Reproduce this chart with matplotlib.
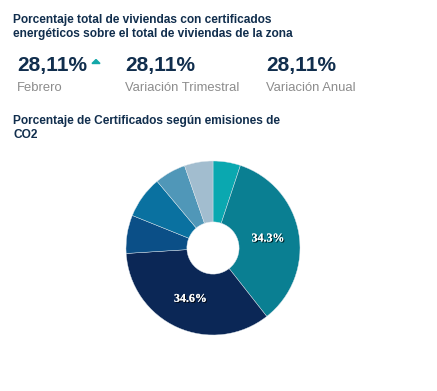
import matplotlib.pyplot as plt
import matplotlib.patheffects as pe

W, H = 437, 391

# Datos
shares = [5.1, 34.3, 34.6, 7.1, 7.8, 5.8, 5.3]
colors = ["#0aa8b0", "#0a7f92", "#0b2756", "#0b4f87", "#0a71a0", "#5097b8", "#a2bdcf"]
kpi_values = ["28,11%", "28,11%", "28,11%"]
kpi_labels = ["Febrero", "Variación Trimestral", "Variación Anual"]
kpi_x = [17, 125, 266]
title1 = ["Porcentaje total de viviendas con certificados",
          "energéticos sobre el total de viviendas de la zona"]
title2 = ["Porcentaje de Certificados según emisiones de", "CO2"]

plt.rcParams["font.family"] = ["Liberation Sans", "DejaVu Sans"]
fig = plt.figure(figsize=(W / 100, H / 100), dpi=100)
fig.patch.set_facecolor("white")


def put(x, y, s, **kw):
    fig.text(x / W, 1 - y / H, s, va="baseline", ha="left", **kw)


navy = "#112e4d"
for i, line in enumerate(title1):
    put(13, 23.5 + 13 * i, line, fontsize=8.55, fontweight="bold", color=navy)

for x, v, lab in zip(kpi_x, kpi_values, kpi_labels):
    put(x, 71.5, v, fontsize=15, fontweight="bold", color=navy)
    put(x, 91, lab, fontsize=9.4, color="#8c8c8c")

# flecha
fig.patches.append(plt.Polygon([[92 / W, 1 - 63.5 / H], [100 / W, 1 - 63.5 / H], [96 / W, 1 - 59.5 / H]],
                               closed=True, transform=fig.transFigure, color="#12a7a8"))

for i, line in enumerate(title2):
    put(13, 124 + 13.5 * i, line, fontsize=8.55, fontweight="bold", color=navy)

# Donut
cx, cy, r = 213, 248, 87
ax = fig.add_axes([(cx - r) / W, 1 - (cy + r) / H, 2 * r / W, 2 * r / H])


def fmt(p):
    return f"{p:.1f}%" if p > 10 else ""


wedges, texts, autotexts = ax.pie(
    shares, colors=colors, startangle=90, counterclock=False,
    autopct=fmt, pctdistance=0.64,
    wedgeprops=dict(width=0.7, edgecolor="#dfe8ee", linewidth=0.3),
    textprops=dict(color="white", fontsize=8.6, fontweight="bold", family="Liberation Serif"))
for t in autotexts:
    t.set_path_effects([pe.withSimplePatchShadow(offset=(0.8, -0.8), shadow_rgbFace="black", alpha=0.8),
                        pe.Normal()])
ax.set_xlim(-1, 1)
ax.set_ylim(-1, 1)
ax.set_aspect("equal")
ax.axis("off")

fig.savefig("out.png", dpi=100, facecolor="white")
